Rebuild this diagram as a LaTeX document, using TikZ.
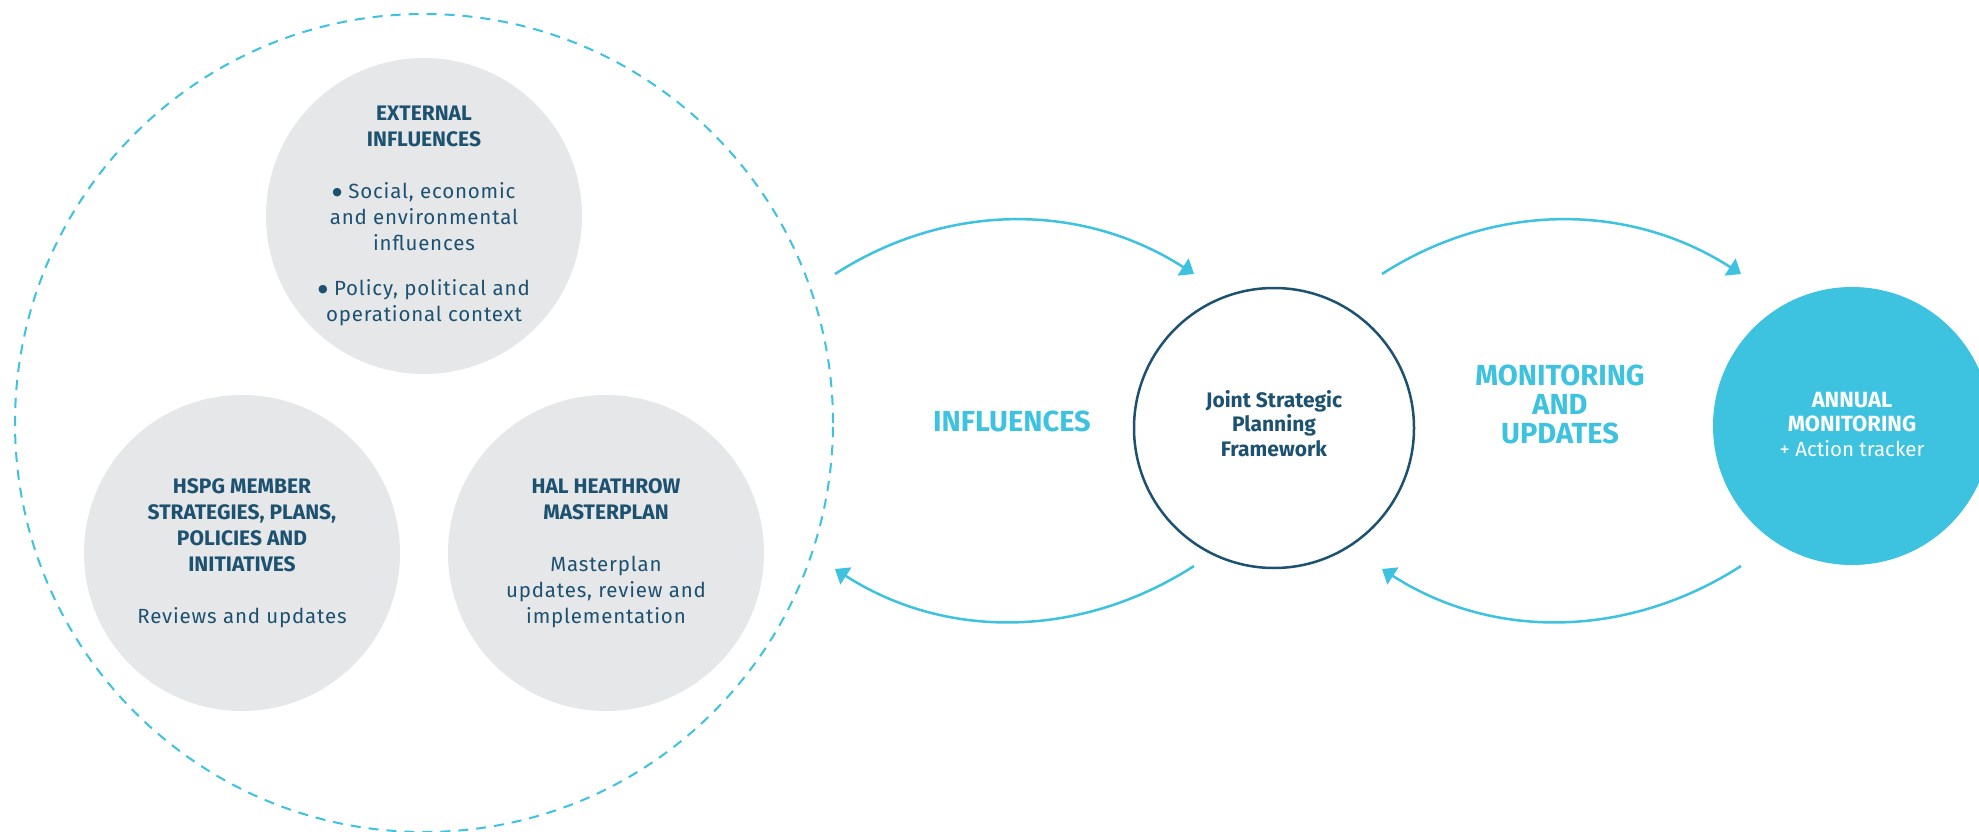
\documentclass[tikz,border=0pt]{standalone}
\usepackage{fontspec}
\setmainfont{Fira Sans}
\newfontfamily\bodyfont[LetterSpace=4]{Fira Sans}
\newfontfamily\symfont{DejaVu Sans}
\usetikzlibrary{arrows.meta}
\definecolor{navy}{HTML}{1D5170}
\definecolor{sky}{HTML}{3DC2E0}
\definecolor{pale}{HTML}{E6E7E9}
\newcommand\hd[1]{{\normalfont\bfseries\fontsize{21}{26}\selectfont #1}}
\newcommand\dotmark{\raisebox{3pt}{\symfont\fontsize{11}{11}\selectfont ●}}
\begin{document}
\begin{tikzpicture}[x=1pt,y=-1pt,
  bubble/.style={circle,fill=pale,minimum size=316pt,inner sep=0pt,text=navy,align=center,font=\bodyfont\fontsize{20.5}{26}\selectfont},
  hub/.style={circle,minimum size=280pt,inner sep=0pt,align=center,font=\bfseries\fontsize{21}{24.5}\selectfont},
  flow/.style={draw=sky,line width=2.5pt,-{Triangle[length=13pt,width=20pt]}},
  tag/.style={text=sky,align=center,font=\bfseries\fontsize{29}{29}\selectfont}]
\fill[white] (0,0) rectangle (1979,832);
\useasboundingbox (0,0) rectangle (1979,832);
\clip (0,0) rectangle (1979,832);
% left group
\node (outer) at (424,423) [circle,draw=sky,line width=2pt,dash pattern=on 10pt off 8pt,minimum size=818pt] {};
\node (ext) at (424,216) [bubble] {\hd{EXTERNAL}\\\hd{INFLUENCES}\\[26pt]
  \dotmark\ Social, economic\\and environmental\\influences\\[19pt]
  \dotmark\ Policy, political and\\operational context};
\node (hspg) at (242,553) [bubble] {\hd{HSPG MEMBER}\\\hd{STRATEGIES, PLANS,}\\\hd{POLICIES AND}\\\hd{INITIATIVES}\\[26pt]
  Reviews and updates};
\node (hal) at (606,553) [bubble] {\hd{HAL HEATHROW}\\\hd{MASTERPLAN}\\[26pt]
  Masterplan\\updates, review and\\implementation};
% right side
\node (jspf) at (1274,428) [hub,draw=navy,line width=2.5pt,text=navy,text depth=10pt] {Joint Strategic\\Planning\\Framework};
\node (annual) at (1852,426) [hub,fill=sky,text=white,minimum size=278pt,text depth=4pt] {\fontsize{22}{24.5}\selectfont ANNUAL\\\fontsize{22}{24.5}\selectfont MONITORING\\\mdseries\fontsize{20.5}{24.5}\selectfont + Action tracker};
\node (infl) at (1012,421) [tag] {INFLUENCES};
\node (mon) at (1560,404) [tag] {MONITORING\\AND\\UPDATES};
% arrows
\coordinate (inA) at (835,274);
\coordinate (inB) at (1194,274);
\coordinate (inC) at (1194,566);
\coordinate (inD) at (835,569);
\coordinate (monA) at (1382,274);
\coordinate (monB) at (1741,274);
\coordinate (monC) at (1741,566);
\coordinate (monD) at (1382,569);
\foreach \u/\v/\h/\k in {inA/inB/112/-72,inC/inD/-112/72,monA/monB/112/-72,monC/monD/-112/72}
  \draw[flow] (\u) .. controls +(\h,\k) and +(-\h,\k) .. (\v);
\end{tikzpicture}
\end{document}
